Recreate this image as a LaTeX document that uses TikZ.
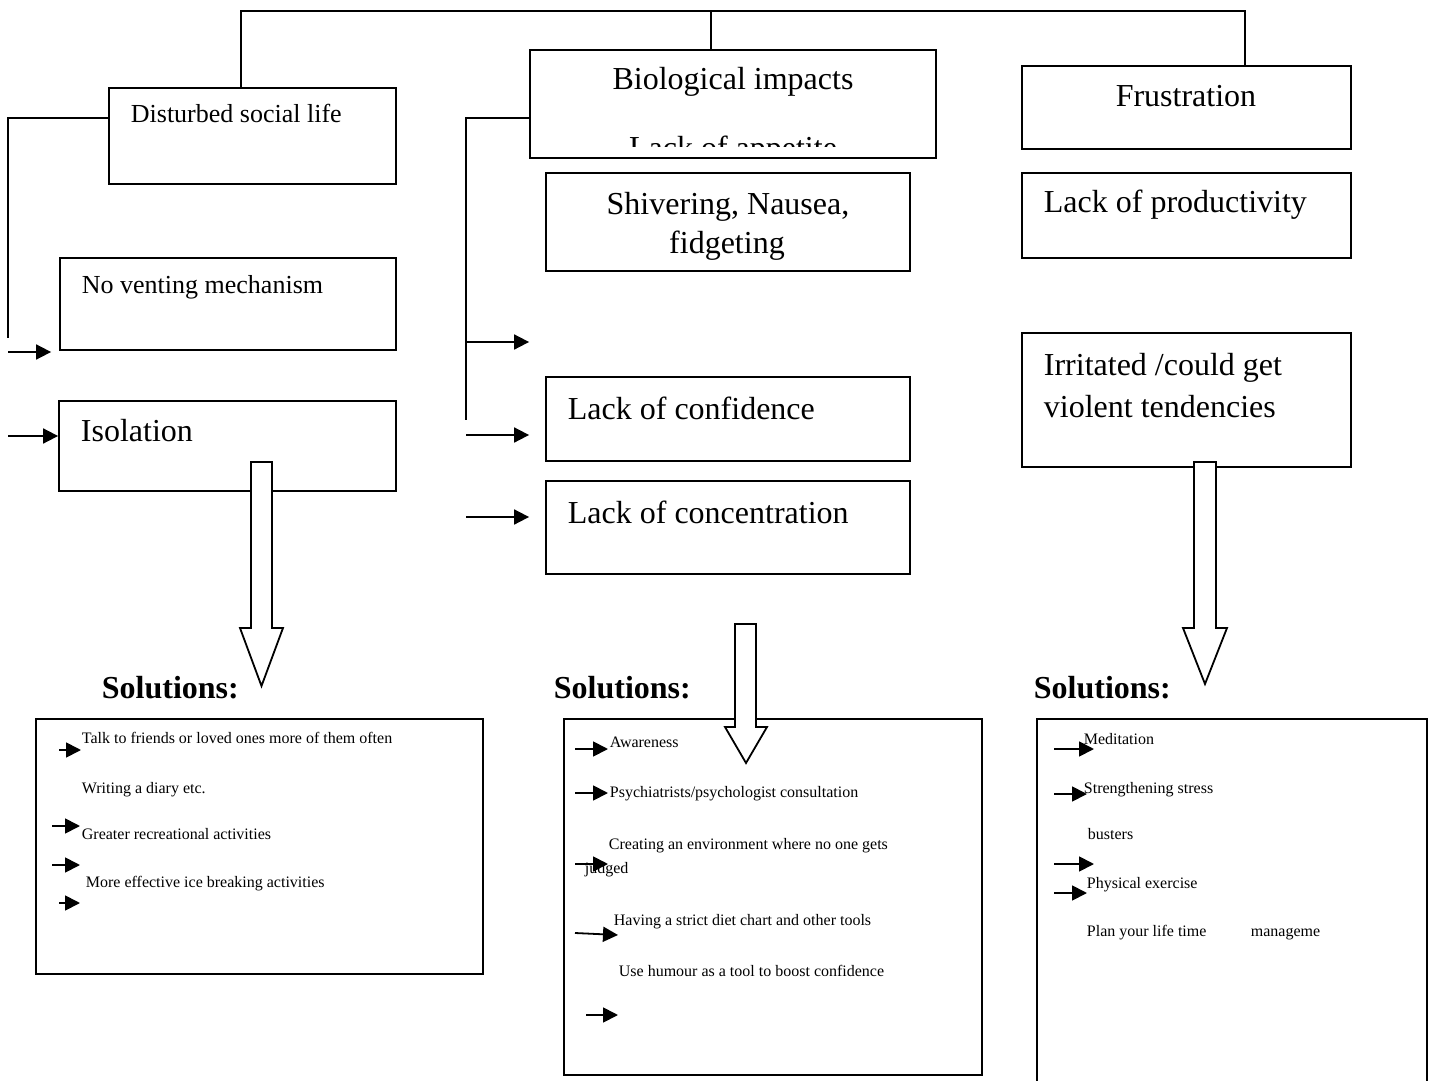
\documentclass[tikz,border=0pt]{standalone}
\usepackage{fontspec}
\setmainfont{Liberation Serif}
\usetikzlibrary{arrows.meta,fit}

\begin{document}
\begin{tikzpicture}[x=0.5pt,y=-0.5pt,line width=0.9pt,
  box/.style={draw,inner sep=0pt},
  big/.style={anchor=base west,inner sep=0pt,font=\fontsize{16}{19}\selectfont},
  bigc/.style={anchor=base,inner sep=0pt,font=\fontsize{16}{19}\selectfont},
  mid/.style={anchor=base west,inner sep=0pt,font=\fontsize{13}{16}\selectfont},
  small/.style={anchor=base west,inner sep=0pt,font=\fontsize{8}{10}\selectfont},
  head/.style={anchor=base west,inner sep=0pt,font=\bfseries\fontsize{16}{19}\selectfont},
  arr/.style={-{Triangle[length=7.5pt,width=7.5pt]}},
  block/.style={draw,fill=white,line join=miter},
]
\useasboundingbox[fill=white] (0,0) rectangle (1431,1081);

% ---- problem boxes ----
\node[box,fit={(109,88) (396,184)}]   (dsl) {};
\node[box,fit={(530,50) (936,158)}]   (bio) {};
\node[box,fit={(1022,66) (1351,149)}] (fru) {};
\node[box,fit={(546,173) (910,271)}]  (shv) {};
\node[box,fit={(1022,173) (1351,258)}] (prd) {};
\node[box,fit={(60,258) (396,350)}]   (nvm) {};
\node[box,fit={(1022,333) (1351,467)}] (irr) {};
\node[box,fit={(59,401) (396,491)}]   (iso) {};
\node[box,fit={(546,377) (910,461)}]  (cnf) {};
\node[box,fit={(546,481) (910,574)}]  (cnc) {};

% ---- box texts ----
\node[mid]  (tdsl) at (130,123) {Disturbed social life};
\node[bigc] (tbio) at (733,90) {Biological impacts};
\begin{scope}
  \clip (531,51) rectangle (935,147);
  \node[bigc] (tapp) at (733,159) {Lack of appetite};
\end{scope}
\node[bigc] (tfru) at (1186,107) {Frustration};
\node[bigc] (tshv1) at (728,214) {Shivering, Nausea,};
\begin{scope}
  \clip (547,220) rectangle (909,259);
  \node[bigc] (tshv2) at (727,253) {fidgeting};
\end{scope}
\node[big] (tprd) at (1043,213) {Lack of productivity};
\node[mid] (tnvm) at (81,293) {No venting mechanism};
\node[big] (tirr1) at (1043,375) {Irritated /could get};
\node[big] (tirr2) at (1043,417) {violent tendencies};
\node[big] (tiso) at (80,441) {Isolation};
\node[big] (tcnf) at (567,419) {Lack of confidence};
\node[big] (tcnc) at (567,523) {Lack of concentration};

% ---- top branch ----
\coordinate (tl) at (241,11);
\coordinate (tm) at (711,11);
\coordinate (tr) at (1245,11);
\draw (dsl.north -| tl) -- (tl) -- (tr) -- (fru.north -| tr);
\draw (tm) -- (bio.north -| tm);

% ---- left branch ----
\coordinate (jL) at (8,338);
\coordinate (aL1) at (8,352);
\coordinate (aL2) at (8,436);
\draw (dsl.north west) ++(0,31) -| (jL);
\draw[arr] (aL1) -- ([xshift=-4pt]aL1 -| nvm.west);
\draw[arr] (aL2) -- (aL2 -| iso.west);

% ---- middle branch ----
\coordinate (jM) at (466,420);
\coordinate (aM1) at (466,342);
\coordinate (aM2) at (466,435);
\coordinate (aM3) at (466,517);
\draw (bio.north west) ++(0,69) -| (jM);
\draw[arr] (aM1) -- ([xshift=-8pt]aM1 -| cnf.west);
\draw[arr] (aM2) -- ([xshift=-8pt]aM2 -| cnf.west);
\draw[arr] (aM3) -- ([xshift=-8pt]aM3 -| cnc.west);

% ---- solution boxes ----
\node[box,fit={(36,719) (483,974)}]  (solL) {};
\node[box,fit={(564,719) (982,1075)}] (solM) {};
\draw (1037,1081) |- (1427,719) -- (1427,1081);

\node[head] (hL) at (101,698) {Solutions:};
\node[head] (hM) at (553,698) {Solutions:};
\node[head] (hR) at (1033,698) {Solutions:};

% ---- hollow block arrows ----
\draw[block] (251,462) -- (251,628) -- (240,628) -- (261.5,686) -- (283,628) -- (272,628) -- (272,462) -- cycle;
\draw[block] (735,624) -- (735,727) -- (725,727) -- (746,763) -- (767,727) -- (756,727) -- (756,624) -- cycle;
\draw[block] (1194,462) -- (1194,628) -- (1183,628) -- (1205,684) -- (1227,628) -- (1216,628) -- (1216,462) -- cycle;

% ---- left solutions ----
\node[small] at (81,743) {Talk to friends or loved ones more of them often};
\node[small] at (81,793) {Writing a diary etc.};
\node[small] at (81,839) {Greater recreational activities};
\node[small] at (85,887) {More effective ice breaking activities};
\draw[arr] (59,750) -- (81,750);
\draw[arr] (52,826) -- (80,826);
\draw[arr] (52,865) -- (80,865);
\draw[arr] (59,903) -- (80,903);

% ---- middle solutions ----
\node[small] at (609,747) {Awareness};
\node[small] at (609,797) {Psychiatrists/psychologist consultation};
\node[small] at (608,849) {Creating an environment where no one gets};
\node[small] at (584,873) {judged};
\node[small] at (613,925) {Having a strict diet chart and other tools};
\node[small] at (618,976) {Use humour as a tool to boost confidence};
\draw[arr] (575,749) -- (608,749);
\draw[arr] (575,793) -- (608,793);
\draw[arr] (575,864) -- (608,864);
\draw[arr] (575,933) -- (618,935);
\draw[arr] (586,1015) -- (618,1015);

% ---- right solutions ----
\node[small] at (1083,744) {Meditation};
\node[small] at (1083,793) {Strengthening stress};
\node[small] at (1087,839) {busters};
\node[small] at (1086,888) {Physical exercise};
\node[small] at (1086,936) {Plan your life time};
\node[small] at (1250,936) {manageme};
\draw[arr] (1054,749) -- (1094,749);
\draw[arr] (1054,794) -- (1087,794);
\draw[arr] (1054,864) -- (1094,864);
\draw[arr] (1054,893) -- (1087,893);
\end{tikzpicture}
\end{document}
